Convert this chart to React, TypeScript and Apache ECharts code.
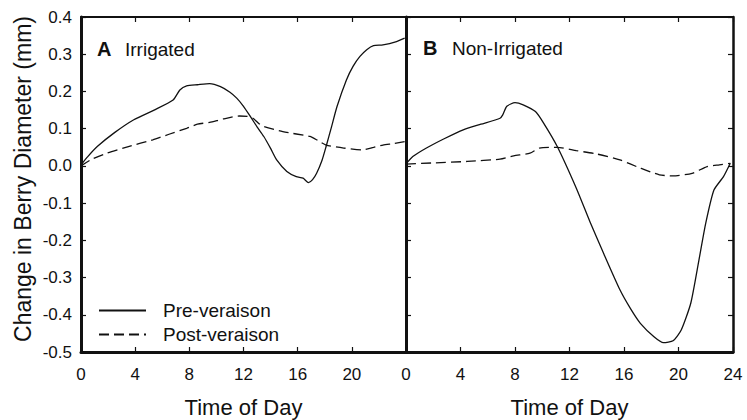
import React, { useEffect, useRef } from "react";
import * as echarts from "echarts";

// Panel A — Irrigated
const irrPreHours = [0, 0.5, 1.2, 2.5, 3.9, 5.4, 6.8, 7.3, 7.8, 8.6, 9.5, 10.3, 11.0, 11.5, 12.0, 12.5, 13.0, 13.5, 14.0, 14.45, 15.2, 15.9, 16.4, 16.8, 17.1, 17.4, 17.8, 18.1, 18.5, 18.9, 19.6, 20.1, 20.6, 21.1, 21.6, 22.3, 23.3, 23.9];
const irrPre = [0.003, 0.025, 0.052, 0.09, 0.124, 0.15, 0.177, 0.204, 0.215, 0.218, 0.221, 0.213, 0.198, 0.182, 0.16, 0.133, 0.105, 0.079, 0.047, 0.016, -0.015, -0.029, -0.033, -0.045, -0.037, -0.02, 0.015, 0.052, 0.105, 0.159, 0.231, 0.268, 0.294, 0.312, 0.323, 0.325, 0.334, 0.343];
const irrPostHours = [0, 0.8, 1.9, 3.5, 5.3, 6.5, 7.8, 8.6, 9.5, 10.5, 11.7, 12.3, 12.7, 13.2, 13.5, 14.9, 16.9, 17.5, 18.1, 19.4, 20.8, 21.6, 22.3, 23.1, 23.9];
const irrPost = [0, 0.018, 0.034, 0.052, 0.07, 0.085, 0.101, 0.112, 0.117, 0.126, 0.134, 0.133, 0.128, 0.112, 0.106, 0.092, 0.079, 0.068, 0.056, 0.048, 0.043, 0.05, 0.056, 0.06, 0.065];

// Panel B — Non-Irrigated
const nonPreHours = [0, 0.5, 1.5, 2.8, 4.2, 5.5, 6.9, 7.1, 7.4, 8.0, 8.6, 9.5, 10.1, 11.1, 12.5, 13.5, 14.5, 15.7, 16.5, 17.2, 18.2, 18.9, 19.6, 20.2, 20.9, 21.5, 22.0, 22.6, 23.3, 23.8];
const nonPre = [0.005, 0.025, 0.048, 0.073, 0.097, 0.112, 0.128, 0.137, 0.16, 0.17, 0.164, 0.146, 0.115, 0.052, -0.06, -0.15, -0.235, -0.333, -0.385, -0.423, -0.459, -0.475, -0.47, -0.441, -0.369, -0.253, -0.154, -0.065, -0.029, 0.007];
const nonPostHours = [0, 2.0, 4.5, 6.9, 7.9, 9.1, 9.8, 11.1, 12.5, 14.0, 15.7, 17.2, 18.6, 19.6, 21.0, 22.1, 23.0, 23.8];
const nonPost = [0.005, 0.008, 0.012, 0.018, 0.027, 0.034, 0.048, 0.05, 0.041, 0.032, 0.016, -0.006, -0.024, -0.027, -0.02, -0.002, 0.003, 0.007];

const seriesNames = ["Pre-veraison", "Post-veraison"];
const panelLetters = ["A", "B"];
const panelNames = ["Irrigated", "Non-Irrigated"];
const xTitle = "Time of Day";
const yTitle = "Change in Berry Diameter (mm)";

const FONT = "'Liberation Sans', Arial, Helvetica, sans-serif";
const INK = "#111";

const zip = (xs: number[], ys: number[]) => xs.map((x, i) => [x, ys[i]]);

export default function App() {
  const ref = useRef<HTMLDivElement>(null);
  useEffect(() => {
    if (!ref.current) return;
    const chart = echarts.init(ref.current, undefined, { renderer: "svg" });

    const tickLabel = { color: INK, fontSize: 17, fontFamily: FONT };
    const xBase = (gridIndex: number, position: "bottom" | "top", showLabel: boolean, lastLabel: boolean, lineWidth: number, withName: boolean) => ({
      type: "value",
      gridIndex,
      position,
      min: 0,
      max: 24,
      interval: 4,
      name: withName ? xTitle : "",
      nameLocation: "middle",
      nameGap: 44,
      nameMoveOverlap: false,
      nameTextStyle: { color: INK, fontSize: 22, fontFamily: FONT },
      axisLine: { show: true, onZero: false, lineStyle: { color: INK, width: lineWidth } },
      axisTick: { show: true, inside: true, length: 5, lineStyle: { color: INK, width: 1.2 } },
      axisLabel: {
        show: showLabel,
        margin: 14,
        ...tickLabel,
        formatter: (v: number) => (v === 24 && !lastLabel ? "" : String(v)),
      },
      splitLine: { show: false },
    });
    const yBase = (gridIndex: number, position: "left" | "right", showLabel: boolean, lineWidth: number) => ({
      type: "value",
      gridIndex,
      position,
      min: -0.5,
      max: 0.4,
      interval: 0.1,
      axisLine: { show: true, onZero: false, lineStyle: { color: INK, width: lineWidth } },
      axisTick: { show: true, inside: true, length: 5, lineStyle: { color: INK, width: 1.2 } },
      axisLabel: {
        show: showLabel,
        margin: 9,
        ...tickLabel,
        formatter: (v: number) => v.toFixed(1),
      },
      splitLine: { show: false },
    });

    const solid = { color: INK, width: 1.3, type: "solid" as const };
    const dashed = { color: INK, width: 1.3, type: [10, 5] as any };
    const line = (name: string, xi: number, yi: number, data: number[][], ls: any) => ({
      name,
      type: "line",
      xAxisIndex: xi,
      yAxisIndex: yi,
      data,
      smooth: 0.2,
      symbol: "none",
      lineStyle: ls,
      itemStyle: { color: INK },
    });

    chart.setOption({
      animation: false,
      backgroundColor: "#fff",
      grid: [
        { left: 81, top: 17, width: 325, height: 335, outerBoundsMode: "none", containLabel: false },
        { left: 406, top: 17, width: 327, height: 335, outerBoundsMode: "none", containLabel: false },
      ],
      xAxis: [
        xBase(0, "bottom", true, false, 3, true),
        xBase(0, "top", false, false, 2, false),
        xBase(1, "bottom", true, true, 3, true),
        xBase(1, "top", false, false, 2, false),
      ],
      yAxis: [
        yBase(0, "left", true, 3),
        yBase(1, "left", false, 3),
        yBase(1, "right", false, 2.5),
      ],
      legend: {
        orient: "vertical",
        left: 98,
        top: 301,
        padding: 0,
        itemWidth: 47,
        itemHeight: 16,
        itemGap: 5,
        data: seriesNames,
        itemStyle: { color: "transparent", borderColor: "transparent", borderWidth: 0 },
        textStyle: { color: INK, fontSize: 19, fontFamily: FONT, padding: [0, 0, 0, 12] },
        selectedMode: false,
      },
      graphic: [
        {
          type: "text",
          x: 23,
          y: 179,
          rotation: Math.PI / 2,
          style: {
            text: yTitle,
            fill: INK,
            font: `23px ${FONT}`,
            align: "center",
            verticalAlign: "middle",
          },
        },
        { type: "text", x: 97, y: 49, style: { text: panelLetters[0], fill: INK, font: `bold 20px ${FONT}`, verticalAlign: "middle" } },
        { type: "text", x: 125, y: 49, style: { text: panelNames[0], fill: INK, font: `19px ${FONT}`, verticalAlign: "middle" } },
        { type: "text", x: 423, y: 48, style: { text: panelLetters[1], fill: INK, font: `bold 20px ${FONT}`, verticalAlign: "middle" } },
        { type: "text", x: 452, y: 48, style: { text: panelNames[1], fill: INK, font: `19px ${FONT}`, verticalAlign: "middle" } },
      ],
      series: [
        line(seriesNames[0], 0, 0, zip(irrPreHours, irrPre), solid),
        line(seriesNames[1], 0, 0, zip(irrPostHours, irrPost), dashed),
        line(seriesNames[0], 2, 1, zip(nonPreHours, nonPre), solid),
        line(seriesNames[1], 2, 1, zip(nonPostHours, nonPost), dashed),
      ],
    });
    return () => chart.dispose();
  }, []);
  return <div ref={ref} style={{ position: "absolute", left: 0, top: 0, width: 747, height: 420 }} />;
}
